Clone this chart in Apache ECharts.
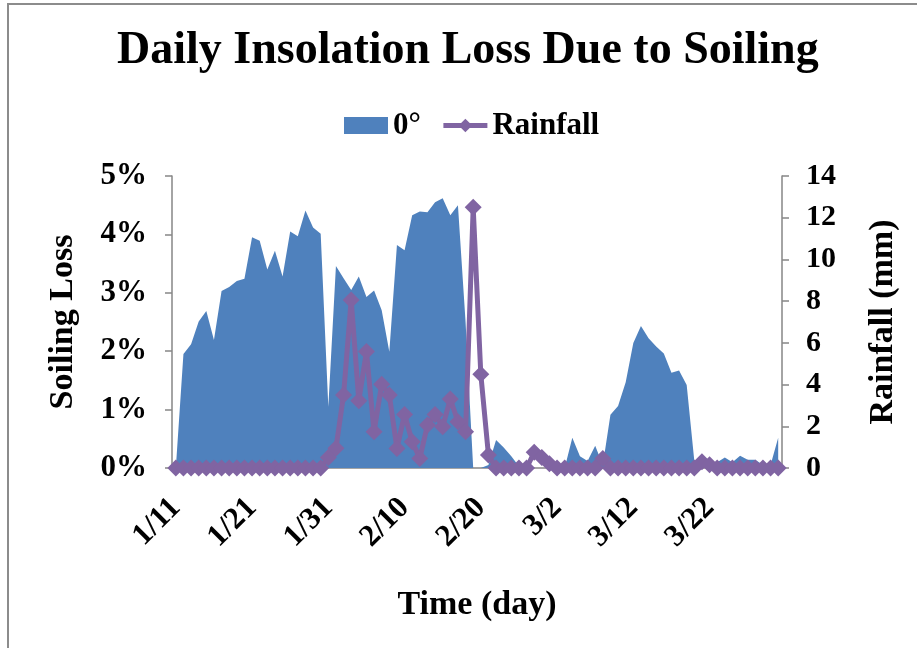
<!DOCTYPE html>
<html><head><meta charset="utf-8">
<script src="https://cdn.jsdelivr.net/npm/echarts@6/dist/echarts.min.js"></script>
<style>html,body{margin:0;padding:0;background:#fff}#c{width:917px;height:648px}</style>
</head><body><div id="c"></div>
<script>
const dates = ["1/11","1/12","1/13","1/14","1/15","1/16","1/17","1/18","1/19","1/20",
"1/21","1/22","1/23","1/24","1/25","1/26","1/27","1/28","1/29","1/30",
"1/31","2/1","2/2","2/3","2/4","2/5","2/6","2/7","2/8","2/9",
"2/10","2/11","2/12","2/13","2/14","2/15","2/16","2/17","2/18","2/19",
"2/20","2/21","2/22","2/23","2/24","2/25","2/26","2/27","2/28","3/1",
"3/2","3/3","3/4","3/5","3/6","3/7","3/8","3/9","3/10","3/11",
"3/12","3/13","3/14","3/15","3/16","3/17","3/18","3/19","3/20","3/21",
"3/22","3/23","3/24","3/25","3/26","3/27","3/28","3/29","3/30","3/31"];
// Soiling loss (%) at 0° tilt
const soiling0 = [0,1.95,2.12,2.51,2.69,2.19,3.03,3.10,3.20,3.24,
3.95,3.89,3.40,3.72,3.28,4.05,3.97,4.41,4.12,4.01,
1.05,3.46,3.25,3.05,3.28,2.93,3.04,2.70,1.99,3.82,
3.73,4.33,4.39,4.38,4.55,4.62,4.33,4.50,2.50,0,
0,0.05,0.48,0.35,0.20,0.03,0,0,0,0,
0,0,0.52,0.20,0.12,0.38,0.05,0.91,1.06,1.47,
2.14,2.43,2.22,2.08,1.96,1.63,1.67,1.42,0.12,0,
0.02,0.10,0.18,0.10,0.21,0.14,0.14,0.05,0.05,0.52];
// Rainfall (mm)
const rainfall = [0,0,0,0,0,0,0,0,0,0,
0,0,0,0,0,0,0,0,0,0,
0.5,0.95,3.5,8.05,3.23,5.58,1.74,4.01,3.5,0.94,
2.57,1.26,0.46,2.06,2.57,1.98,3.31,2.22,1.74,12.5,
4.49,0.62,0,0,0,0,0,0.75,0.5,0.2,
0,0,0,0,0,0,0.45,0,0,0,
0,0,0,0,0,0,0,0,0,0.3,
0.15,0,0,0,0,0,0,0,0,0];
const lossTicks = [0,1,2,3,4,5];
const rainTicks = [0,2,4,6,8,10,12,14];

const F = '"Liberation Serif","Times New Roman",serif';
const axisGray = '#868686';
const chart = echarts.init(document.getElementById('c'));
chart.setOption({
  animation:false,
  backgroundColor:'#fff',
  graphic:[{type:'rect',shape:{x:8,y:4,width:1000,height:1000},style:{fill:'none',stroke:'#8c8c8c',lineWidth:2},silent:true}],
  title:{text:'Daily Insolation Loss Due to Soiling',left:117,top:28,padding:0,
    textStyle:{fontFamily:F,fontWeight:'bold',fontSize:46,color:'#000'}},
  legend:{left:339,top:105,itemWidth:44,itemHeight:17,itemGap:20,
    lineStyle:{width:5},
    textStyle:{fontFamily:F,fontWeight:'bold',fontSize:31,color:'#000'},
    data:[{name:'0°',icon:'rect'},{name:'Rainfall'}]},
  grid:{left:172,right:135,top:176,bottom:180,outerBoundsMode:'none',containLabel:false},
  xAxis:{type:'category',data:dates,boundaryGap:true,
    name:'Time (day)',nameLocation:'middle',nameGap:120,
    nameTextStyle:{fontFamily:F,fontWeight:'bold',fontSize:34,color:'#000'},
    axisLine:{lineStyle:{color:axisGray,width:1.5}},
    axisTick:{interval:9,length:6,lineStyle:{color:axisGray,width:1.5}},
    axisLabel:{interval:9,rotate:45,margin:35,fontFamily:F,fontWeight:'bold',fontSize:31,color:'#000'},
    splitLine:{show:false}},
  yAxis:[{type:'value',min:lossTicks[0],max:lossTicks[lossTicks.length-1],interval:1,
    name:'Soiling Loss',nameLocation:'middle',nameGap:92,nameRotate:90,
    nameTextStyle:{fontFamily:F,fontWeight:'bold',fontSize:34,color:'#000'},
    axisLine:{show:true,lineStyle:{color:axisGray,width:1.5}},
    axisTick:{show:true,length:7,lineStyle:{color:axisGray,width:1.5}},
    axisLabel:{formatter:'{value}%',margin:25,fontFamily:F,fontWeight:'bold',fontSize:31,color:'#000'},
    splitLine:{show:false}},
   {type:'value',min:rainTicks[0],max:rainTicks[rainTicks.length-1],interval:2,position:'right',
    name:'Rainfall (mm)',nameLocation:'middle',nameGap:84,nameRotate:90,
    nameTextStyle:{fontFamily:F,fontWeight:'bold',fontSize:34,color:'#000'},
    axisLine:{show:true,lineStyle:{color:axisGray,width:1.5}},
    axisTick:{show:true,length:7,lineStyle:{color:axisGray,width:1.5}},
    axisLabel:{margin:24,fontFamily:F,fontWeight:'bold',fontSize:30,color:'#000'},
    splitLine:{show:false}}],
  series:[
    {name:'0°',type:'line',data:soiling0,yAxisIndex:0,symbol:'none',
     lineStyle:{width:0},itemStyle:{color:'#4F81BD'},areaStyle:{color:'#4F81BD',opacity:1},z:1},
    {name:'Rainfall',type:'line',data:rainfall,yAxisIndex:1,symbol:'diamond',symbolSize:17,showAllSymbol:true,
     lineStyle:{color:'#8064A2',width:5},itemStyle:{color:'#8064A2'},z:3}
  ]
});
</script></body></html>
